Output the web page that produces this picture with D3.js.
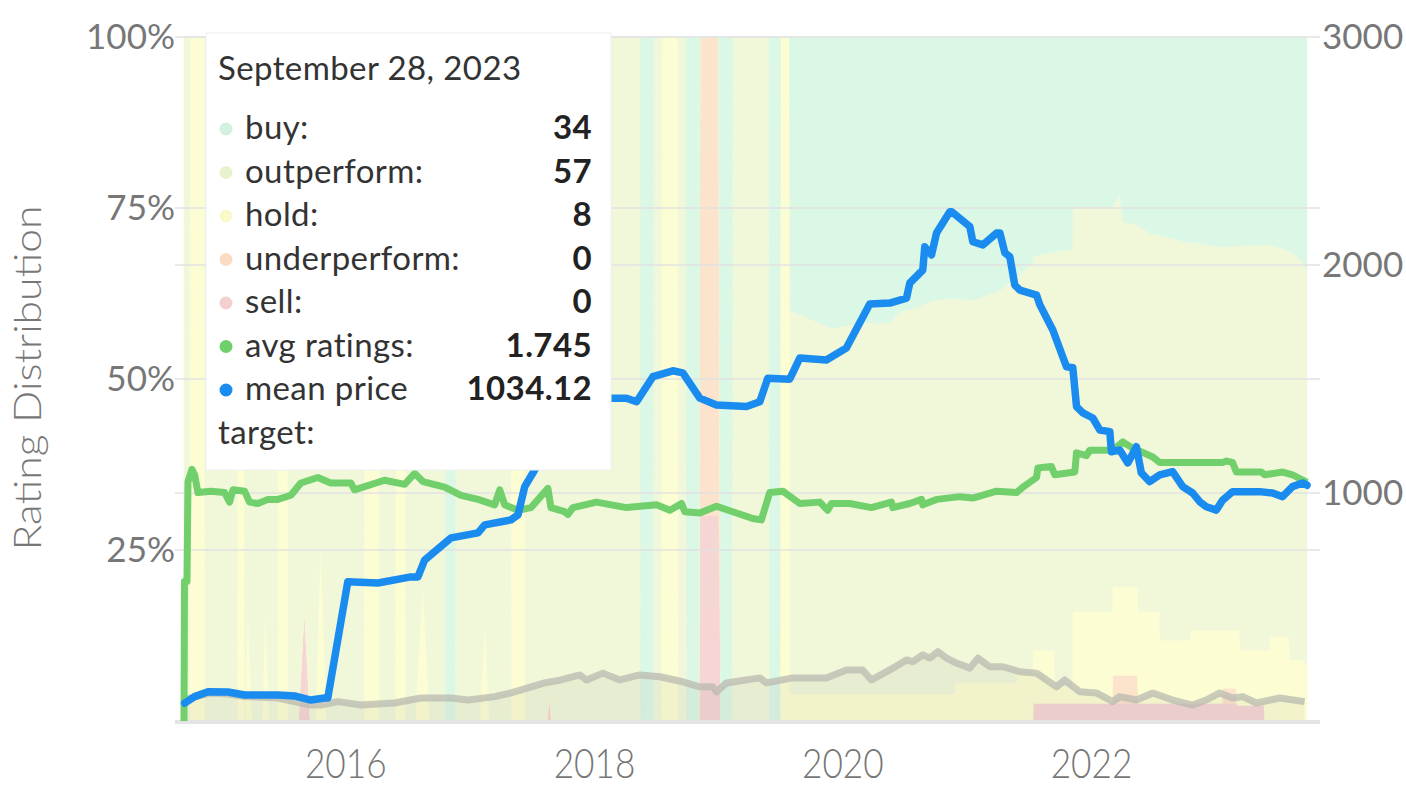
<!DOCTYPE html>
<html>
<head>
<meta charset="utf-8">
<script src="https://cdn.jsdelivr.net/npm/d3@7"></script>
<style>
  html, body { margin: 0; background: #fff; }
  svg text { font-family: Lato, "Open Sans", sans-serif; }
</style>
</head>
<body>
<svg id="chart" width="1406" height="788"></svg>
<script>
// rating mix in percent: [year, buy, outperform, hold, underperform, sell]
const ratingMix = [
  [2014.701, 0, 100, 0, 0, 0], [2014.745, 0, 100, 0, 0, 0], [2014.750, 0, 0, 100, 0, 0],
  [2014.865, 0, 0, 100, 0, 0], [2014.870, 0, 100, 0, 0, 0], [2015.130, 0, 100, 0, 0, 0],
  [2015.135, 0, 0, 100, 0, 0], [2015.185, 0, 0, 100, 0, 0], [2015.190, 0, 100, 0, 0, 0],
  [2015.215, 0, 84, 16, 0, 0], [2015.250, 0, 100, 0, 0, 0], [2015.330, 0, 100, 0, 0, 0],
  [2015.355, 0, 84, 16, 0, 0], [2015.390, 0, 100, 0, 0, 0], [2015.455, 0, 100, 0, 0, 0],
  [2015.460, 0, 0, 100, 0, 0], [2015.535, 0, 0, 100, 0, 0], [2015.540, 0, 100, 0, 0, 0],
  [2015.620, 0, 100, 0, 0, 0], [2015.670, 0, 83, 0, 0, 17], [2015.720, 0, 100, 0, 0, 0],
  [2015.760, 0, 100, 0, 0, 0], [2015.800, 0, 74, 26, 0, 0], [2015.850, 0, 100, 0, 0, 0],
  [2016.150, 0, 100, 0, 0, 0], [2016.155, 0, 0, 100, 0, 0], [2016.270, 0, 0, 100, 0, 0],
  [2016.275, 0, 100, 0, 0, 0], [2016.400, 0, 100, 0, 0, 0], [2016.405, 0, 0, 100, 0, 0],
  [2016.480, 0, 0, 100, 0, 0], [2016.485, 0, 100, 0, 0, 0], [2016.560, 0, 100, 0, 0, 0],
  [2016.620, 0, 80, 20, 0, 0], [2016.680, 0, 100, 0, 0, 0], [2016.800, 0, 100, 0, 0, 0],
  [2016.805, 100, 0, 0, 0, 0], [2016.880, 100, 0, 0, 0, 0], [2016.885, 0, 100, 0, 0, 0],
  [2017.080, 0, 100, 0, 0, 0], [2017.120, 0, 86, 14, 0, 0], [2017.160, 0, 100, 0, 0, 0],
  [2017.330, 0, 100, 0, 0, 0], [2017.335, 0, 0, 100, 0, 0], [2017.440, 0, 0, 100, 0, 0],
  [2017.445, 0, 100, 0, 0, 0], [2017.620, 0, 100, 0, 0, 0], [2017.640, 0, 96, 0, 0, 4],
  [2017.660, 0, 100, 0, 0, 0], [2018.372, 0, 100, 0, 0, 0], [2018.377, 100, 0, 0, 0, 0],
  [2018.474, 100, 0, 0, 0, 0], [2018.479, 0, 100, 0, 0, 0], [2018.541, 0, 100, 0, 0, 0],
  [2018.546, 0, 0, 100, 0, 0], [2018.675, 0, 0, 100, 0, 0], [2018.680, 0, 100, 0, 0, 0],
  [2018.742, 0, 100, 0, 0, 0], [2018.747, 100, 0, 0, 0, 0], [2018.844, 100, 0, 0, 0, 0],
  [2018.852, 0, 0, 0, 70, 30], [2019.005, 0, 0, 0, 70, 30], [2019.021, 100, 0, 0, 0, 0],
  [2019.110, 100, 0, 0, 0, 0], [2019.115, 0, 100, 0, 0, 0], [2019.410, 0, 100, 0, 0, 0],
  [2019.415, 100, 0, 0, 0, 0], [2019.495, 100, 0, 0, 0, 0], [2019.500, 0, 0, 100, 0, 0],
  [2019.576, 0, 0, 100, 0, 0], [2019.580, 40, 56, 4, 0, 0], [2019.920, 42.6, 53.4, 4, 0, 0],
  [2020.140, 41.8, 54.2, 4, 0, 0], [2020.380, 41.8, 54.2, 4, 0, 0], [2020.460, 40.2, 55.8, 4, 0, 0],
  [2020.620, 39.4, 56.6, 4, 0, 0], [2020.730, 38.5, 57.5, 4, 0, 0], [2020.900, 38.2, 57.8, 4, 0, 0],
  [2020.905, 38.2, 56.2, 5.6, 0, 0], [2021.050, 38.5, 55.9, 5.6, 0, 0], [2021.270, 37, 57.4, 5.6, 0, 0],
  [2021.400, 35, 59.4, 5.6, 0, 0], [2021.405, 35, 58, 7, 0, 0], [2021.530, 33, 60, 7, 0, 0],
  [2021.535, 32, 57.6, 7.8, 0, 2.6], [2021.705, 31.4, 58.2, 7.8, 0, 2.6], [2021.710, 31.4, 63.6, 2.4, 0, 2.6],
  [2021.848, 31, 64, 2.4, 0, 2.6], [2021.853, 24.8, 59.2, 13.4, 0, 2.6], [2022.170, 24.8, 59.2, 13.4, 0, 2.6],
  [2022.175, 24.8, 55.6, 12.9, 4.1, 2.6], [2022.230, 23.1, 57.3, 12.9, 4.1, 2.6], [2022.260, 27, 53.4, 12.9, 4.1, 2.6],
  [2022.375, 27.5, 52.9, 12.9, 4.1, 2.6], [2022.380, 27.5, 56.5, 13.4, 0, 2.6], [2022.470, 28.7, 55.3, 13.4, 0, 2.6],
  [2022.550, 29, 55, 13.4, 0, 2.6], [2022.555, 29, 59.2, 9.2, 0, 2.6], [2022.770, 30, 58.2, 9.2, 0, 2.6],
  [2022.795, 30, 58.2, 9.2, 0, 2.6], [2022.800, 30, 56.7, 10.7, 0, 2.6], [2023.055, 30.7, 56, 10.7, 0, 2.6],
  [2023.060, 30.7, 56, 8.5, 2.2, 2.6], [2023.170, 30.6, 56.1, 8.5, 2.2, 2.6], [2023.175, 30.6, 56.1, 11, 0, 2.3],
  [2023.195, 30.6, 56.1, 11, 0, 2.3], [2023.200, 30.5, 59.1, 8.1, 0, 2.3], [2023.395, 30.4, 59.2, 8.1, 0, 2.3],
  [2023.400, 30.4, 59.2, 10.4, 0, 0], [2023.435, 30.4, 59.2, 10.4, 0, 0], [2023.440, 30.4, 57.3, 12.3, 0, 0],
  [2023.595, 31.2, 56.5, 12.3, 0, 0], [2023.600, 31.2, 59.9, 8.9, 0, 0], [2023.700, 32.8, 58.3, 8.9, 0, 0],
  [2023.739, 34.3, 57.6, 8.1, 0, 0]
];

// mean price target, right axis
const meanPrice = [
  [2014.706, 78], [2014.787, 107], [2014.894, 128], [2015.055, 127], [2015.189, 114],
  [2015.457, 114], [2015.591, 110], [2015.722, 92], [2015.833, 101], [2015.859, 101],
  [2016.020, 611], [2016.261, 605], [2016.527, 632], [2016.583, 632], [2016.637, 706],
  [2016.849, 803], [2017.066, 825], [2017.120, 860], [2017.331, 882], [2017.388, 904],
  [2017.442, 1028], [2017.522, 1101], [2017.645, 1230], [2017.766, 1330], [2017.927, 1395],
  [2018.047, 1416], [2018.142, 1416], [2018.262, 1416], [2018.343, 1400], [2018.474, 1510],
  [2018.635, 1536], [2018.715, 1527], [2018.852, 1416], [2018.986, 1386], [2019.228, 1379],
  [2019.335, 1400], [2019.399, 1503], [2019.576, 1499], [2019.657, 1592], [2019.871, 1583],
  [2020.032, 1636], [2020.220, 1829], [2020.381, 1833], [2020.515, 1855], [2020.542, 1921],
  [2020.646, 1978], [2020.662, 2080], [2020.716, 2044], [2020.756, 2140], [2020.863, 2234],
  [2020.877, 2234], [2021.024, 2168], [2021.048, 2102], [2021.129, 2088], [2021.239, 2140],
  [2021.266, 2140], [2021.306, 2053], [2021.346, 2036], [2021.386, 1912], [2021.427, 1890],
  [2021.561, 1868], [2021.588, 1825], [2021.692, 1715], [2021.802, 1554], [2021.853, 1550],
  [2021.883, 1379], [2021.934, 1351], [2022.014, 1329], [2022.071, 1276], [2022.151, 1269],
  [2022.164, 1181], [2022.231, 1189], [2022.296, 1132], [2022.365, 1203], [2022.405, 1088],
  [2022.472, 1050], [2022.553, 1079], [2022.657, 1094], [2022.738, 1028], [2022.818, 1000],
  [2022.875, 962], [2022.928, 940], [2023.009, 925], [2023.060, 969], [2023.140, 1006],
  [2023.357, 1006], [2023.462, 1000], [2023.542, 984], [2023.622, 1028], [2023.703, 1044],
  [2023.739, 1034.12]
];

// average rating (0-5 mapped onto the left axis)
const avgRating = [
  [2014.701, 0], [2014.705, 1.02], [2014.725, 1.02], [2014.733, 1.75], [2014.765, 1.84],
  [2014.787, 1.80], [2014.813, 1.67], [2014.918, 1.68], [2015.028, 1.67], [2015.068, 1.60],
  [2015.095, 1.69], [2015.189, 1.68], [2015.229, 1.60], [2015.296, 1.59], [2015.377, 1.62],
  [2015.457, 1.62], [2015.562, 1.65], [2015.642, 1.74], [2015.779, 1.78], [2015.883, 1.74],
  [2016.044, 1.74], [2016.074, 1.69], [2016.315, 1.76], [2016.476, 1.73], [2016.557, 1.81],
  [2016.623, 1.75], [2016.798, 1.71], [2016.929, 1.65], [2017.066, 1.62], [2017.200, 1.58],
  [2017.241, 1.69], [2017.281, 1.58], [2017.388, 1.54], [2017.492, 1.56], [2017.629, 1.70],
  [2017.653, 1.56], [2017.763, 1.53], [2017.790, 1.51], [2017.830, 1.56], [2018.021, 1.60],
  [2018.262, 1.56], [2018.504, 1.58], [2018.611, 1.54], [2018.705, 1.59], [2018.731, 1.53],
  [2018.852, 1.52], [2018.986, 1.57], [2019.278, 1.48], [2019.348, 1.47], [2019.415, 1.67],
  [2019.520, 1.68], [2019.657, 1.59], [2019.818, 1.60], [2019.882, 1.54], [2019.912, 1.59],
  [2020.059, 1.59], [2020.233, 1.56], [2020.394, 1.60], [2020.405, 1.56], [2020.541, 1.59],
  [2020.636, 1.62], [2020.646, 1.58], [2020.756, 1.62], [2020.944, 1.64], [2021.048, 1.63],
  [2021.239, 1.68], [2021.400, 1.67], [2021.451, 1.71], [2021.561, 1.78], [2021.571, 1.85],
  [2021.681, 1.86], [2021.708, 1.80], [2021.869, 1.82], [2021.883, 1.96], [2021.963, 1.94],
  [2021.990, 1.98], [2022.175, 1.98], [2022.256, 2.04], [2022.325, 2.00], [2022.497, 1.93],
  [2022.553, 1.89], [2023.060, 1.89], [2023.090, 1.90], [2023.140, 1.89], [2023.170, 1.82],
  [2023.371, 1.82], [2023.398, 1.80], [2023.543, 1.82], [2023.622, 1.80], [2023.739, 1.745]
];

// faint grey series near the bottom, right axis units
const greyLine = [
  [2014.717, 95], [2014.757, 101], [2014.918, 123], [2015.055, 118], [2015.189, 107],
  [2015.457, 101], [2015.722, 70], [2015.803, 70], [2015.940, 85], [2016.125, 70],
  [2016.396, 79], [2016.607, 101], [2016.849, 101], [2016.986, 92], [2017.200, 107],
  [2017.331, 123], [2017.468, 145], [2017.603, 167], [2017.734, 180], [2017.886, 202],
  [2017.940, 180], [2018.072, 210], [2018.208, 180], [2018.369, 202], [2018.530, 194],
  [2018.715, 172], [2018.852, 150], [2018.957, 150], [2018.986, 128], [2019.067, 167],
  [2019.335, 189], [2019.389, 167], [2019.600, 189], [2019.871, 189], [2020.032, 224],
  [2020.163, 224], [2020.233, 180], [2020.381, 224], [2020.515, 268], [2020.566, 260],
  [2020.646, 290], [2020.703, 276], [2020.767, 304], [2020.837, 276], [2020.917, 254],
  [2021.024, 232], [2021.089, 276], [2021.185, 238], [2021.290, 238], [2021.427, 216],
  [2021.561, 210], [2021.641, 180], [2021.722, 150], [2021.788, 180], [2021.909, 128],
  [2022.043, 123], [2022.175, 85], [2022.231, 107], [2022.365, 92], [2022.497, 123],
  [2022.657, 92], [2022.818, 70], [2022.928, 92], [2023.035, 123], [2023.140, 101],
  [2023.221, 107], [2023.331, 79], [2023.519, 101], [2023.720, 85]
];

const pctTicks = [25, 50, 75, 100];
const priceTicks = [1000, 2000, 3000];
const yearTicks = [2016, 2018, 2020, 2022];

const tipDate = "September 28, 2023";
const tipLabels = ["buy:", "outperform:", "hold:", "underperform:", "sell:", "avg ratings:", "mean price"];
const tipValues = ["34", "57", "8", "0", "0", "1.745", "1034.12"];

const mixKeys = ["sell", "underperform", "hold", "outperform", "buy"];
const mixColor = {
  buy: "#dbf7e5", outperform: "#f1f8d9", hold: "#fdfdd3",
  underperform: "#fce3cc", sell: "#f6d6d4"
};
const tipDots = ["#d3f1df", "#e9f2cf", "#f9f9cc", "#fbdcc3", "#f3cfcf", "#6fcf6b", "#1a8cf0"];

const plotL = 184, plotR = 1307, plotT = 37, plotB = 721;

function toDate(t) {
  const yr = Math.floor(t);
  const a = new Date(yr, 0, 1), b = new Date(yr + 1, 0, 1);
  return new Date(+a + (t - yr) * (b - a));
}

const svg = d3.select("#chart");

const x = d3.scaleTime().domain([toDate(2014.701), toDate(2023.739)]).range([plotL, plotR]);
const yPct = d3.scaleLinear().domain([0, 100]).range([plotB, plotT]);
const yRating = d3.scaleLinear().domain([0, 5]).range([plotB, plotT]);
const yPrice = d3.scaleLinear().domain([0, 3000]).range([plotB, plotT]);

// background stacked rating mix
const rows = ratingMix.map(r => ({
  date: toDate(r[0]), buy: r[1], outperform: r[2], hold: r[3], underperform: r[4], sell: r[5]
}));
const series = d3.stack().keys(mixKeys)(rows);

const area = d3.area()
  .x(d => x(d.data.date))
  .y0(d => yPct(d[0]))
  .y1(d => yPct(d[1]));

svg.append("g")
  .selectAll("path")
  .data(series)
  .join("path")
  .attr("fill", d => mixColor[d.key])
  .attr("stroke", d => mixColor[d.key])
  .attr("stroke-width", 0.6)
  .attr("d", area);

// grey series with its soft fill
svg.append("path")
  .datum(greyLine)
  .attr("fill", "#8a8a7a")
  .attr("opacity", 0.09)
  .attr("d", d3.area().x(d => x(toDate(d[0]))).y0(plotB).y1(d => yPrice(d[1])));

// gridlines
const gridY = [0, 25, 50, 75, 100].map(v => yPct(v)).concat([1000, 2000].map(v => yPrice(v)));
svg.append("g")
  .selectAll("line")
  .data(gridY)
  .join("line")
  .attr("x1", 175).attr("x2", 1320)
  .attr("y1", d => d).attr("y2", d => d)
  .attr("stroke", "#e2e2e2")
  .attr("stroke-width", 1.5);

svg.append("line")
  .attr("x1", 175).attr("x2", 1320)
  .attr("y1", plotB + 1).attr("y2", plotB + 1)
  .attr("stroke", "#e4e4e4")
  .attr("stroke-width", 4);

svg.append("path")
  .datum(greyLine)
  .attr("fill", "none")
  .attr("stroke", "#b9bab0")
  .attr("stroke-opacity", 0.75)
  .attr("stroke-width", 7)
  .attr("stroke-linejoin", "round")
  .attr("d", d3.line().x(d => x(toDate(d[0]))).y(d => yPrice(d[1])));

// avg ratings line
svg.append("path")
  .datum(avgRating)
  .attr("fill", "none")
  .attr("stroke", "#72d06c")
  .attr("stroke-width", 7)
  .attr("stroke-linejoin", "round")
  .attr("d", d3.line().x(d => x(toDate(d[0]))).y(d => yRating(d[1])));

// mean price line
svg.append("path")
  .datum(meanPrice)
  .attr("fill", "none")
  .attr("stroke", "#1a8cf0")
  .attr("stroke-width", 7.5)
  .attr("stroke-linejoin", "round")
  .attr("stroke-linecap", "round")
  .attr("d", d3.line().x(d => x(toDate(d[0]))).y(d => yPrice(d[1])));

// axes
const axisText = g => g.call(s => s.select(".domain").remove())
  .selectAll("text").attr("fill", "#777");

svg.append("g")
  .attr("transform", `translate(${plotL},0)`)
  .call(d3.axisLeft(yPct).tickValues(pctTicks).tickFormat(d => d + "%").tickSize(0).tickPadding(9))
  .call(axisText)
  .attr("font-size", 35);

svg.append("g")
  .attr("transform", `translate(${plotR},0)`)
  .call(d3.axisRight(yPrice).tickValues(priceTicks).tickFormat(d3.format("d")).tickSize(0).tickPadding(15))
  .call(axisText)
  .attr("font-size", 35);

const xAxis = svg.append("g")
  .attr("transform", `translate(0,${plotB})`)
  .call(d3.axisBottom(x).tickValues(yearTicks.map(v => toDate(v))).tickFormat(d3.timeFormat("%Y")).tickSize(0))
  .call(axisText)
  .attr("font-size", 41)
  .attr("font-weight", 300);
xAxis.selectAll("text").attr("y", 57).attr("dy", null).attr("transform", "scale(0.86,1)");

svg.append("text")
  .attr("transform", "translate(41,378) rotate(-90)")
  .attr("text-anchor", "middle")
  .attr("font-size", 38)
  .attr("font-weight", 300)
  .attr("fill", "#777")
  .attr("textLength", 345)
  .attr("lengthAdjust", "spacingAndGlyphs")
  .text("Rating Distribution");

// tooltip
const tip = svg.append("g")
  .attr("font-size", 33)
  .attr("letter-spacing", 0.4);
tip.append("rect")
  .attr("x", 206).attr("y", 33)
  .attr("width", 405).attr("height", 437)
  .attr("fill", "#fff")
  .attr("stroke", "#f0f0f0");

tip.append("text")
  .attr("x", 218).attr("y", 80)
  .attr("fill", "#333")
  .text(tipDate);

const rowY = i => 139 + i * 43.5;
tip.selectAll("circle")
  .data(tipDots)
  .join("circle")
  .attr("cx", 226)
  .attr("cy", (d, i) => rowY(i) - 10)
  .attr("r", 6.5)
  .attr("fill", d => d);

tip.selectAll("text.lab")
  .data(tipLabels)
  .join("text")
  .attr("class", "lab")
  .attr("x", 245)
  .attr("y", (d, i) => rowY(i))
  .attr("fill", "#333")
  .text(d => d);

tip.selectAll("text.val")
  .data(tipValues)
  .join("text")
  .attr("class", "val")
  .attr("x", 592)
  .attr("y", (d, i) => rowY(i))
  .attr("text-anchor", "end")
  .attr("font-weight", "bold")
  .attr("fill", "#222")
  .text(d => d);

tip.append("text")
  .attr("x", 218).attr("y", rowY(7))
  .attr("fill", "#333")
  .text("target:");
</script>
</body>
</html>
